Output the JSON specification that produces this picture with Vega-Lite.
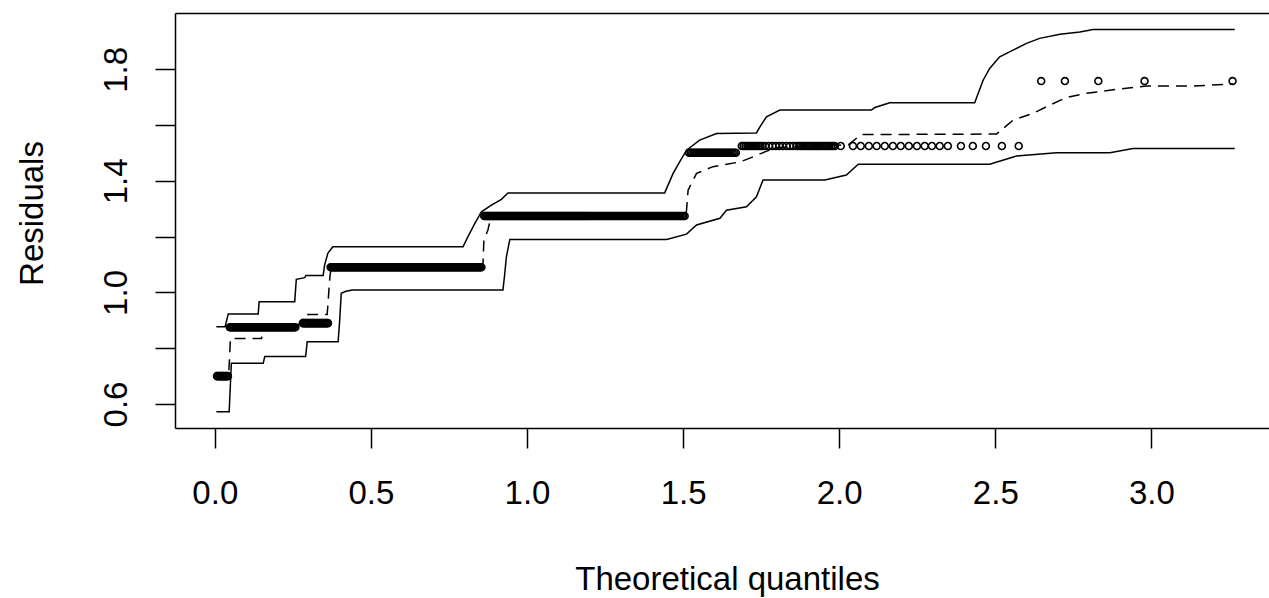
{
"$schema": "https://vega.github.io/schema/vega-lite/v6.json",
"width": 1094, "height": 415,
"autosize": {"type": "none"},
"padding": {"left": 175, "top": 13, "right": 0, "bottom": 170},
"background": "white",
"config": {"view": {"stroke": null}, "font": "Liberation Sans"},
"resolve": {"axis": {"x": "independent"}},
"datasets": {
"env": [
{"s":"u","x":0.005,"y":0.877},{"s":"u","x":0.033,"y":0.877},{"s":"u","x":0.043,"y":0.923},{"s":"u","x":0.139,"y":0.923},{"s":"u","x":0.142,"y":0.967},{"s":"u","x":0.256,"y":0.967},{"s":"u","x":0.261,"y":1.047},{"s":"u","x":0.288,"y":1.053},{"s":"u","x":0.292,"y":1.061},{"s":"u","x":0.347,"y":1.061},{"s":"u","x":0.352,"y":1.100},{"s":"u","x":0.362,"y":1.140},{"s":"u","x":0.378,"y":1.164},{"s":"u","x":0.795,"y":1.164},{"s":"u","x":0.811,"y":1.200},{"s":"u","x":0.833,"y":1.248},{"s":"u","x":0.854,"y":1.289},{"s":"u","x":0.886,"y":1.313},{"s":"u","x":0.918,"y":1.334},{"s":"u","x":0.939,"y":1.357},{"s":"u","x":1.441,"y":1.357},{"s":"u","x":1.468,"y":1.427},{"s":"u","x":1.489,"y":1.468},{"s":"u","x":1.511,"y":1.510},{"s":"u","x":1.553,"y":1.546},{"s":"u","x":1.607,"y":1.570},{"s":"u","x":1.735,"y":1.572},{"s":"u","x":1.746,"y":1.594},{"s":"u","x":1.767,"y":1.630},{"s":"u","x":1.810,"y":1.654},{"s":"u","x":2.103,"y":1.654},{"s":"u","x":2.114,"y":1.663},{"s":"u","x":2.162,"y":1.680},{"s":"u","x":2.434,"y":1.680},{"s":"u","x":2.461,"y":1.761},{"s":"u","x":2.482,"y":1.803},{"s":"u","x":2.514,"y":1.845},{"s":"u","x":2.557,"y":1.869},{"s":"u","x":2.600,"y":1.893},{"s":"u","x":2.642,"y":1.911},{"s":"u","x":2.707,"y":1.926},{"s":"u","x":2.771,"y":1.934},{"s":"u","x":2.813,"y":1.943},{"s":"u","x":3.267,"y":1.943},
{"s":"l","x":0.005,"y":0.572},{"s":"l","x":0.046,"y":0.572},{"s":"l","x":0.053,"y":0.746},{"s":"l","x":0.155,"y":0.746},{"s":"l","x":0.160,"y":0.770},{"s":"l","x":0.291,"y":0.770},{"s":"l","x":0.296,"y":0.823},{"s":"l","x":0.395,"y":0.823},{"s":"l","x":0.400,"y":0.900},{"s":"l","x":0.405,"y":0.997},{"s":"l","x":0.420,"y":1.004},{"s":"l","x":0.440,"y":1.009},{"s":"l","x":0.923,"y":1.009},{"s":"l","x":0.928,"y":1.060},{"s":"l","x":0.934,"y":1.128},{"s":"l","x":0.945,"y":1.190},{"s":"l","x":1.447,"y":1.190},{"s":"l","x":1.511,"y":1.209},{"s":"l","x":1.543,"y":1.242},{"s":"l","x":1.618,"y":1.266},{"s":"l","x":1.639,"y":1.295},{"s":"l","x":1.703,"y":1.307},{"s":"l","x":1.735,"y":1.343},{"s":"l","x":1.756,"y":1.403},{"s":"l","x":1.954,"y":1.403},{"s":"l","x":2.023,"y":1.421},{"s":"l","x":2.061,"y":1.460},{"s":"l","x":2.482,"y":1.460},{"s":"l","x":2.568,"y":1.489},{"s":"l","x":2.696,"y":1.501},{"s":"l","x":2.867,"y":1.501},{"s":"l","x":2.941,"y":1.516},{"s":"l","x":3.267,"y":1.516}
],
"med": [
{"x":0.005,"y":0.700},{"x":0.044,"y":0.700},{"x":0.047,"y":0.760},{"x":0.050,"y":0.835},{"x":0.150,"y":0.835},{"x":0.153,"y":0.875},{"x":0.262,"y":0.875},{"x":0.272,"y":0.890},{"x":0.282,"y":0.905},{"x":0.288,"y":0.921},{"x":0.360,"y":0.921},{"x":0.365,"y":1.000},{"x":0.369,"y":1.060},{"x":0.373,"y":1.090},{"x":0.855,"y":1.090},{"x":0.859,"y":1.104},{"x":0.862,"y":1.188},{"x":0.875,"y":1.225},{"x":0.885,"y":1.274},{"x":1.508,"y":1.274},{"x":1.511,"y":1.295},{"x":1.516,"y":1.367},{"x":1.543,"y":1.427},{"x":1.596,"y":1.451},{"x":1.682,"y":1.468},{"x":1.724,"y":1.486},{"x":1.762,"y":1.504},{"x":1.800,"y":1.520},{"x":2.030,"y":1.530},{"x":2.061,"y":1.558},{"x":2.070,"y":1.566},{"x":2.504,"y":1.568},{"x":2.557,"y":1.618},{"x":2.621,"y":1.642},{"x":2.675,"y":1.672},{"x":2.728,"y":1.699},{"x":2.792,"y":1.714},{"x":2.888,"y":1.728},{"x":2.984,"y":1.740},{"x":3.123,"y":1.740},{"x":3.262,"y":1.747}
],
"pts": [
{"x":0.007,"y":0.7},{"x":0.0105,"y":0.7},{"x":0.014,"y":0.7},{"x":0.0175,"y":0.7},{"x":0.021,"y":0.7},{"x":0.0245,"y":0.7},{"x":0.028,"y":0.7},{"x":0.0315,"y":0.7},{"x":0.035,"y":0.7},{"x":0.0385,"y":0.7},{"x":0.042,"y":0.7},
{"x":0.048,"y":0.875},{"x":0.0515,"y":0.875},{"x":0.055,"y":0.875},{"x":0.0585,"y":0.875},{"x":0.062,"y":0.875},{"x":0.0655,"y":0.875},{"x":0.069,"y":0.875},{"x":0.0725,"y":0.875},{"x":0.076,"y":0.875},{"x":0.0795,"y":0.875},{"x":0.083,"y":0.875},{"x":0.0865,"y":0.875},{"x":0.09,"y":0.875},{"x":0.0935,"y":0.875},{"x":0.097,"y":0.875},{"x":0.1005,"y":0.875},{"x":0.104,"y":0.875},{"x":0.1075,"y":0.875},{"x":0.111,"y":0.875},{"x":0.1145,"y":0.875},{"x":0.118,"y":0.875},{"x":0.1215,"y":0.875},{"x":0.125,"y":0.875},{"x":0.1285,"y":0.875},{"x":0.132,"y":0.875},{"x":0.1355,"y":0.875},{"x":0.139,"y":0.875},{"x":0.1425,"y":0.875},{"x":0.146,"y":0.875},{"x":0.1495,"y":0.875},{"x":0.153,"y":0.875},{"x":0.1565,"y":0.875},{"x":0.16,"y":0.875},{"x":0.1635,"y":0.875},{"x":0.167,"y":0.875},{"x":0.1705,"y":0.875},{"x":0.174,"y":0.875},{"x":0.1775,"y":0.875},{"x":0.181,"y":0.875},{"x":0.1845,"y":0.875},{"x":0.188,"y":0.875},{"x":0.1915,"y":0.875},{"x":0.195,"y":0.875},{"x":0.1985,"y":0.875},{"x":0.202,"y":0.875},{"x":0.2055,"y":0.875},{"x":0.209,"y":0.875},{"x":0.2125,"y":0.875},{"x":0.216,"y":0.875},{"x":0.2195,"y":0.875},{"x":0.223,"y":0.875},{"x":0.2265,"y":0.875},{"x":0.23,"y":0.875},{"x":0.2335,"y":0.875},{"x":0.237,"y":0.875},{"x":0.2405,"y":0.875},{"x":0.244,"y":0.875},{"x":0.2475,"y":0.875},{"x":0.251,"y":0.875},{"x":0.2545,"y":0.875},{"x":0.258,"y":0.875},
{"x":0.282,"y":0.89},{"x":0.2855,"y":0.89},{"x":0.289,"y":0.89},{"x":0.2925,"y":0.89},{"x":0.296,"y":0.89},{"x":0.2995,"y":0.89},{"x":0.303,"y":0.89},{"x":0.3065,"y":0.89},{"x":0.31,"y":0.89},{"x":0.3135,"y":0.89},{"x":0.317,"y":0.89},{"x":0.3205,"y":0.89},{"x":0.324,"y":0.89},{"x":0.3275,"y":0.89},{"x":0.331,"y":0.89},{"x":0.3345,"y":0.89},{"x":0.338,"y":0.89},{"x":0.3415,"y":0.89},{"x":0.345,"y":0.89},{"x":0.3485,"y":0.89},{"x":0.352,"y":0.89},{"x":0.3555,"y":0.89},{"x":0.359,"y":0.89},{"x":0.3625,"y":0.89},
{"x":0.371,"y":1.09},{"x":0.3745,"y":1.09},{"x":0.378,"y":1.09},{"x":0.3815,"y":1.09},{"x":0.385,"y":1.09},{"x":0.3885,"y":1.09},{"x":0.392,"y":1.09},{"x":0.3955,"y":1.09},{"x":0.399,"y":1.09},{"x":0.4025,"y":1.09},{"x":0.406,"y":1.09},{"x":0.4095,"y":1.09},{"x":0.413,"y":1.09},{"x":0.4165,"y":1.09},{"x":0.42,"y":1.09},{"x":0.4235,"y":1.09},{"x":0.427,"y":1.09},{"x":0.4305,"y":1.09},{"x":0.434,"y":1.09},{"x":0.4375,"y":1.09},{"x":0.441,"y":1.09},{"x":0.4445,"y":1.09},{"x":0.448,"y":1.09},{"x":0.4515,"y":1.09},{"x":0.455,"y":1.09},{"x":0.4585,"y":1.09},{"x":0.462,"y":1.09},{"x":0.4655,"y":1.09},{"x":0.469,"y":1.09},{"x":0.4725,"y":1.09},{"x":0.476,"y":1.09},{"x":0.4795,"y":1.09},{"x":0.483,"y":1.09},{"x":0.4865,"y":1.09},{"x":0.49,"y":1.09},{"x":0.4935,"y":1.09},{"x":0.497,"y":1.09},{"x":0.5005,"y":1.09},{"x":0.504,"y":1.09},{"x":0.5075,"y":1.09},{"x":0.511,"y":1.09},{"x":0.5145,"y":1.09},{"x":0.518,"y":1.09},{"x":0.5215,"y":1.09},{"x":0.525,"y":1.09},{"x":0.5285,"y":1.09},{"x":0.532,"y":1.09},{"x":0.5355,"y":1.09},{"x":0.539,"y":1.09},{"x":0.5425,"y":1.09},{"x":0.546,"y":1.09},{"x":0.5495,"y":1.09},{"x":0.553,"y":1.09},{"x":0.5565,"y":1.09},{"x":0.56,"y":1.09},{"x":0.5635,"y":1.09},{"x":0.567,"y":1.09},{"x":0.5705,"y":1.09},{"x":0.574,"y":1.09},{"x":0.5775,"y":1.09},{"x":0.581,"y":1.09},{"x":0.5845,"y":1.09},{"x":0.588,"y":1.09},{"x":0.5915,"y":1.09},{"x":0.595,"y":1.09},{"x":0.5985,"y":1.09},{"x":0.602,"y":1.09},{"x":0.6055,"y":1.09},{"x":0.609,"y":1.09},{"x":0.6125,"y":1.09},{"x":0.616,"y":1.09},{"x":0.6195,"y":1.09},{"x":0.623,"y":1.09},{"x":0.6265,"y":1.09},{"x":0.63,"y":1.09},{"x":0.6335,"y":1.09},{"x":0.637,"y":1.09},{"x":0.6405,"y":1.09},{"x":0.644,"y":1.09},{"x":0.6475,"y":1.09},{"x":0.651,"y":1.09},{"x":0.6545,"y":1.09},{"x":0.658,"y":1.09},{"x":0.6615,"y":1.09},{"x":0.665,"y":1.09},{"x":0.6685,"y":1.09},{"x":0.672,"y":1.09},{"x":0.6755,"y":1.09},{"x":0.679,"y":1.09},{"x":0.6825,"y":1.09},{"x":0.686,"y":1.09},{"x":0.6895,"y":1.09},{"x":0.693,"y":1.09},{"x":0.6965,"y":1.09},{"x":0.7,"y":1.09},{"x":0.7035,"y":1.09},{"x":0.707,"y":1.09},{"x":0.7105,"y":1.09},{"x":0.714,"y":1.09},{"x":0.7175,"y":1.09},{"x":0.721,"y":1.09},{"x":0.7245,"y":1.09},{"x":0.728,"y":1.09},{"x":0.7315,"y":1.09},{"x":0.735,"y":1.09},{"x":0.7385,"y":1.09},{"x":0.742,"y":1.09},{"x":0.7455,"y":1.09},{"x":0.749,"y":1.09},{"x":0.7525,"y":1.09},{"x":0.756,"y":1.09},{"x":0.7595,"y":1.09},{"x":0.763,"y":1.09},{"x":0.7665,"y":1.09},{"x":0.77,"y":1.09},{"x":0.7735,"y":1.09},{"x":0.777,"y":1.09},{"x":0.7805,"y":1.09},{"x":0.784,"y":1.09},{"x":0.7875,"y":1.09},{"x":0.791,"y":1.09},{"x":0.7945,"y":1.09},{"x":0.798,"y":1.09},{"x":0.8015,"y":1.09},{"x":0.805,"y":1.09},{"x":0.8085,"y":1.09},{"x":0.812,"y":1.09},{"x":0.8155,"y":1.09},{"x":0.819,"y":1.09},{"x":0.8225,"y":1.09},{"x":0.826,"y":1.09},{"x":0.8295,"y":1.09},{"x":0.833,"y":1.09},{"x":0.8365,"y":1.09},{"x":0.84,"y":1.09},{"x":0.8435,"y":1.09},{"x":0.847,"y":1.09},{"x":0.8505,"y":1.09},{"x":0.854,"y":1.09},
{"x":0.863,"y":1.274},{"x":0.8665,"y":1.274},{"x":0.87,"y":1.274},{"x":0.8735,"y":1.274},{"x":0.877,"y":1.274},{"x":0.8805,"y":1.274},{"x":0.884,"y":1.274},{"x":0.8875,"y":1.274},{"x":0.891,"y":1.274},{"x":0.8945,"y":1.274},{"x":0.898,"y":1.274},{"x":0.9015,"y":1.274},{"x":0.905,"y":1.274},{"x":0.9085,"y":1.274},{"x":0.912,"y":1.274},{"x":0.9155,"y":1.274},{"x":0.919,"y":1.274},{"x":0.9225,"y":1.274},{"x":0.926,"y":1.274},{"x":0.9295,"y":1.274},{"x":0.933,"y":1.274},{"x":0.9365,"y":1.274},{"x":0.94,"y":1.274},{"x":0.9435,"y":1.274},{"x":0.947,"y":1.274},{"x":0.9505,"y":1.274},{"x":0.954,"y":1.274},{"x":0.9575,"y":1.274},{"x":0.961,"y":1.274},{"x":0.9645,"y":1.274},{"x":0.968,"y":1.274},{"x":0.9715,"y":1.274},{"x":0.975,"y":1.274},{"x":0.9785,"y":1.274},{"x":0.982,"y":1.274},{"x":0.9855,"y":1.274},{"x":0.989,"y":1.274},{"x":0.9925,"y":1.274},{"x":0.996,"y":1.274},{"x":0.9995,"y":1.274},{"x":1.003,"y":1.274},{"x":1.0065,"y":1.274},{"x":1.01,"y":1.274},{"x":1.0135,"y":1.274},{"x":1.017,"y":1.274},{"x":1.0205,"y":1.274},{"x":1.024,"y":1.274},{"x":1.0275,"y":1.274},{"x":1.031,"y":1.274},{"x":1.0345,"y":1.274},{"x":1.038,"y":1.274},{"x":1.0415,"y":1.274},{"x":1.045,"y":1.274},{"x":1.0485,"y":1.274},{"x":1.052,"y":1.274},{"x":1.0555,"y":1.274},{"x":1.059,"y":1.274},{"x":1.0625,"y":1.274},{"x":1.066,"y":1.274},{"x":1.0695,"y":1.274},{"x":1.073,"y":1.274},{"x":1.0765,"y":1.274},{"x":1.08,"y":1.274},{"x":1.0835,"y":1.274},{"x":1.087,"y":1.274},{"x":1.0905,"y":1.274},{"x":1.094,"y":1.274},{"x":1.0975,"y":1.274},{"x":1.101,"y":1.274},{"x":1.1045,"y":1.274},{"x":1.108,"y":1.274},{"x":1.1115,"y":1.274},{"x":1.115,"y":1.274},{"x":1.1185,"y":1.274},{"x":1.122,"y":1.274},{"x":1.1255,"y":1.274},{"x":1.129,"y":1.274},{"x":1.1325,"y":1.274},{"x":1.136,"y":1.274},{"x":1.1395,"y":1.274},{"x":1.143,"y":1.274},{"x":1.1465,"y":1.274},{"x":1.15,"y":1.274},{"x":1.1535,"y":1.274},{"x":1.157,"y":1.274},{"x":1.1605,"y":1.274},{"x":1.164,"y":1.274},{"x":1.1675,"y":1.274},{"x":1.171,"y":1.274},{"x":1.1745,"y":1.274},{"x":1.178,"y":1.274},{"x":1.1815,"y":1.274},{"x":1.185,"y":1.274},{"x":1.1885,"y":1.274},{"x":1.192,"y":1.274},{"x":1.1955,"y":1.274},{"x":1.199,"y":1.274},
{"x":1.2035,"y":1.274},{"x":1.208,"y":1.274},{"x":1.2125,"y":1.274},{"x":1.217,"y":1.274},{"x":1.2215,"y":1.274},{"x":1.226,"y":1.274},{"x":1.2305,"y":1.274},{"x":1.235,"y":1.274},{"x":1.2395,"y":1.274},{"x":1.244,"y":1.274},{"x":1.2485,"y":1.274},{"x":1.253,"y":1.274},{"x":1.2575,"y":1.274},{"x":1.262,"y":1.274},{"x":1.2665,"y":1.274},{"x":1.271,"y":1.274},{"x":1.2755,"y":1.274},{"x":1.28,"y":1.274},{"x":1.2845,"y":1.274},{"x":1.289,"y":1.274},{"x":1.2935,"y":1.274},{"x":1.298,"y":1.274},{"x":1.3025,"y":1.274},{"x":1.307,"y":1.274},{"x":1.3115,"y":1.274},{"x":1.316,"y":1.274},{"x":1.3205,"y":1.274},{"x":1.325,"y":1.274},{"x":1.3295,"y":1.274},{"x":1.334,"y":1.274},{"x":1.3385,"y":1.274},{"x":1.343,"y":1.274},{"x":1.3475,"y":1.274},{"x":1.352,"y":1.274},{"x":1.3565,"y":1.274},{"x":1.361,"y":1.274},{"x":1.3655,"y":1.274},{"x":1.37,"y":1.274},{"x":1.3745,"y":1.274},{"x":1.379,"y":1.274},{"x":1.3835,"y":1.274},{"x":1.388,"y":1.274},{"x":1.3925,"y":1.274},{"x":1.397,"y":1.274},{"x":1.4015,"y":1.274},{"x":1.406,"y":1.274},{"x":1.4105,"y":1.274},{"x":1.415,"y":1.274},{"x":1.4195,"y":1.274},{"x":1.424,"y":1.274},{"x":1.4285,"y":1.274},{"x":1.433,"y":1.274},{"x":1.4375,"y":1.274},{"x":1.442,"y":1.274},{"x":1.4465,"y":1.274},{"x":1.451,"y":1.274},{"x":1.4555,"y":1.274},{"x":1.46,"y":1.274},{"x":1.4645,"y":1.274},{"x":1.469,"y":1.274},{"x":1.4735,"y":1.274},{"x":1.478,"y":1.274},{"x":1.4825,"y":1.274},{"x":1.487,"y":1.274},{"x":1.4915,"y":1.274},{"x":1.496,"y":1.274},{"x":1.5005,"y":1.274},{"x":1.505,"y":1.274},
{"x":1.519,"y":1.501},{"x":1.524,"y":1.501},{"x":1.529,"y":1.501},{"x":1.534,"y":1.501},{"x":1.539,"y":1.501},{"x":1.544,"y":1.501},{"x":1.549,"y":1.501},{"x":1.554,"y":1.501},{"x":1.559,"y":1.501},{"x":1.564,"y":1.501},{"x":1.569,"y":1.501},{"x":1.574,"y":1.501},{"x":1.579,"y":1.501},{"x":1.584,"y":1.501},{"x":1.589,"y":1.501},{"x":1.594,"y":1.501},{"x":1.599,"y":1.501},{"x":1.604,"y":1.501},{"x":1.609,"y":1.501},{"x":1.614,"y":1.501},{"x":1.619,"y":1.501},{"x":1.624,"y":1.501},{"x":1.629,"y":1.501},{"x":1.634,"y":1.501},{"x":1.639,"y":1.501},{"x":1.644,"y":1.501},{"x":1.649,"y":1.501},{"x":1.654,"y":1.501},{"x":1.659,"y":1.501},{"x":1.664,"y":1.501},{"x":1.669,"y":1.501},
{"x":1.688,"y":1.525},{"x":1.694,"y":1.525},{"x":1.7,"y":1.525},{"x":1.706,"y":1.525},{"x":1.712,"y":1.525},{"x":1.718,"y":1.525},{"x":1.724,"y":1.525},{"x":1.73,"y":1.525},{"x":1.736,"y":1.525},{"x":1.742,"y":1.525},{"x":1.748,"y":1.525},{"x":1.754,"y":1.525},
{"x":1.763,"y":1.525},{"x":1.775,"y":1.525},{"x":1.786,"y":1.525},{"x":1.797,"y":1.525},{"x":1.808,"y":1.525},{"x":1.819,"y":1.525},{"x":1.831,"y":1.525},{"x":1.842,"y":1.525},{"x":1.853,"y":1.525},{"x":1.864,"y":1.525},
{"x":1.872,"y":1.525},{"x":1.878,"y":1.525},{"x":1.884,"y":1.525},{"x":1.89,"y":1.525},{"x":1.896,"y":1.525},{"x":1.902,"y":1.525},{"x":1.908,"y":1.525},{"x":1.914,"y":1.525},{"x":1.92,"y":1.525},{"x":1.926,"y":1.525},{"x":1.932,"y":1.525},{"x":1.938,"y":1.525},{"x":1.944,"y":1.525},{"x":1.95,"y":1.525},{"x":1.956,"y":1.525},{"x":1.962,"y":1.525},{"x":1.968,"y":1.525},{"x":1.974,"y":1.525},{"x":1.98,"y":1.525},{"x":1.986,"y":1.525},
{"x":2.005,"y":1.525},{"x":2.044,"y":1.525},{"x":2.069,"y":1.525},{"x":2.095,"y":1.525},{"x":2.12,"y":1.525},{"x":2.146,"y":1.525},{"x":2.172,"y":1.525},{"x":2.197,"y":1.525},{"x":2.223,"y":1.525},{"x":2.249,"y":1.525},{"x":2.274,"y":1.525},{"x":2.297,"y":1.525},{"x":2.322,"y":1.525},{"x":2.348,"y":1.525},{"x":2.39,"y":1.525},{"x":2.428,"y":1.525},{"x":2.47,"y":1.525},{"x":2.521,"y":1.525},{"x":2.575,"y":1.525},
{"x":2.647,"y":1.758},{"x":2.723,"y":1.758},{"x":2.83,"y":1.758},{"x":2.978,"y":1.758},{"x":3.26,"y":1.758}
]
},
"encoding": {
"y": {"field": "y", "type": "quantitative", "scale": {"domain": [0.514, 2.002], "nice": false, "zero": false},
"axis": {"orient": "left", "values": [0.6, 0.8, 1.0, 1.2, 1.4, 1.6, 1.8], "format": ".1f", "labelExpr": "indexof(['0.6','1.0','1.4','1.8'], datum.label) >= 0 ? datum.label : ''", "grid": false, "domain": true, "domainColor": "black", "domainWidth": 1.5, "ticks": true, "tickColor": "black", "tickWidth": 1.5, "tickSize": 20, "labelFont": "Liberation Sans", "labelFontSize": 33, "labelColor": "black", "labelAngle": 270, "labelAlign": "center", "labelBaseline": "alphabetic", "labelPadding": 29, "labelFlush": false, "labelOverlap": false, "title": "Residuals", "titleFont": "Liberation Sans", "titleFontSize": 33, "titleFontWeight": "normal", "titleColor": "black", "titleAngle": 270, "titleAlign": "center", "titleBaseline": "alphabetic", "titleX": -133, "titleY": 200}}
},
"layer": [
{
"data": {"name": "env"},
"mark": {"type": "line", "color": "black", "strokeWidth": 1.5},
"encoding": {
"x": {"field": "x", "type": "quantitative", "scale": {"domain": [-0.1275, 3.3767], "nice": false, "zero": false},
"axis": {"orient": "bottom", "values": [0, 0.5, 1, 1.5, 2, 2.5, 3], "format": ".1f", "grid": false, "domain": true, "domainColor": "black", "domainWidth": 1.5, "ticks": true, "tickColor": "black", "tickWidth": 1.5, "tickSize": 20, "labelFont": "Liberation Sans", "labelFontSize": 33, "labelColor": "black", "labelPadding": 29, "labelFlush": false, "labelOverlap": false, "labelBaseline": "top", "title": "Theoretical quantiles", "titleFont": "Liberation Sans", "titleFontSize": 33, "titleFontWeight": "normal", "titleColor": "black", "titleBaseline": "alphabetic", "titleAlign": "center", "titleX": 552, "titleY": 161}},
"detail": {"field": "s", "type": "nominal"}
}
},
{
"data": {"name": "med"},
"mark": {"type": "line", "color": "black", "strokeWidth": 1.5, "strokeDash": [11, 7]},
"encoding": {
"x": {"field": "x", "type": "quantitative", "axis": null}
}
},
{
"data": {"name": "pts"},
"mark": {"type": "point", "shape": "circle", "filled": false, "color": "black", "size": 48, "strokeWidth": 1.6, "opacity": 1},
"encoding": {
"x": {"field": "x", "type": "quantitative", "axis": {"orient": "top", "domain": true, "domainColor": "black", "domainWidth": 1.5, "ticks": false, "labels": false, "grid": false, "title": null}}
}
}
]
}
